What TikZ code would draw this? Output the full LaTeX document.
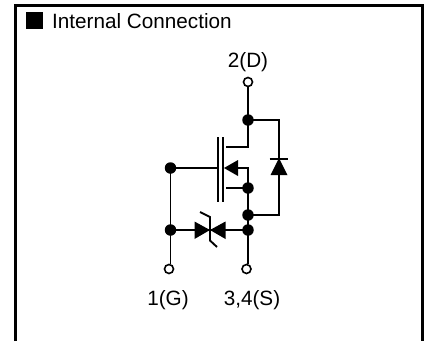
\documentclass[tikz,border=0pt]{standalone}
\usepackage{fontspec}
\setmainfont{Liberation Sans}
\tikzset{
  wire/.style={line width=1.9pt,black},
  frameline/.style={line width=3pt,black},
  bar/.style={line width=2.2pt,black},
  solder/.style={circle,fill=black,draw=none,inner sep=0pt,minimum size=11.5pt},
  term/.style={circle,fill=white,draw=black,line width=1.6pt,inner sep=0pt,minimum size=9pt},
  lbl/.style={inner sep=0pt,font=\fontsize{20.7}{24}\selectfont},
  tip/.style={fill=black,draw=none}
}
\begin{document}
\begin{tikzpicture}[x=1pt,y=-1pt]
\useasboundingbox (0,0) rectangle (424,341);
\fill[white] (0,0) rectangle (424,341);
% frame
\coordinate (fbl) at (15.5,341); \coordinate (ftl) at (15.5,5.5);
\coordinate (ftr) at (422.5,5.5); \coordinate (fbr) at (422.5,341);
\draw[frameline] (fbl) -- (ftl) -- (ftr) -- (fbr);
% title
\node[fill=black,inner sep=0pt,minimum size=17pt] (sq) at (34.5,20.5) {};
\node[anchor=base west,inner sep=0pt,font=\fontsize{20.7}{24}\selectfont] (title) at (52,28) {Internal Connection};
% labels
\node[lbl] (ld) at (248,62) {2(D)};
\node[lbl] (lg) at (168,300) {1(G)};
\node[lbl] (ls) at (252,300) {3,4(S)};
% nodes
\node[term] (D) at (248,82) {};
\node[term] (G) at (169,269) {};
\node[term] (S) at (246.5,269) {};
\node[solder] (jd) at (248,120) {};
\node[solder] (jg) at (170.5,168) {};
\node[solder] (js1) at (248,188) {};
\node[solder] (js2) at (248,215) {};
\node[solder] (js3) at (248,230) {};
\node[solder] (jl) at (170.5,230) {};
\coordinate (dr) at (279,120);
\coordinate (sr) at (279,215);
\coordinate (dc) at (248,147);
\coordinate (dch) at (226,147);
\coordinate (mc) at (248,168);
\coordinate (mch) at (231,168);
\coordinate (sch) at (226,188);
\coordinate (gb) at (218,168);
\coordinate (zc) at (210,230);
% wires
\draw[wire] (D) -- (jd.center) -- (dc) -- (dch);
\draw[wire] (jd.center) -- (dr) -- (sr) -- (js2.center);
\draw[wire] (mch) -- (mc) -- (js1.center) -- (sch);
\draw[wire] (js1.center) -- (js2.center) -- (js3.center) -- (js3.center |- S.north);
\draw[wire] (jg.center) -- (gb);
\draw[wire] (jg.center) -- (jl.center) -- (jl.center |- G.north);
\draw[wire] (jl.center) -- (zc) -- (js3.center);
% gate bars
\coordinate (b1t) at (218,137); \coordinate (b1b) at (218,202);
\coordinate (b2t) at (223,137); \coordinate (b2b) at (223,202);
\draw[bar] (b1t) -- (b1b);
\draw[bar] (b2t) -- (b2b);
% mosfet arrow
\fill[tip] (224,168) -- (238,160) -- (238,176) -- cycle;
% body diode
\fill[tip] (279,158) -- (287.5,175) -- (270.5,175) -- cycle;
\draw[line width=2.4pt] (269.5,159) -- (288,159);
% zener
\fill[tip] (210,230) -- (194.5,221.5) -- (194.5,239) -- cycle;
\fill[tip] (210,230) -- (225.5,221.5) -- (225.5,239) -- cycle;
\draw[wire] (200,212) -- (210,217) -- (210,240.5) -- (217,247);
\end{tikzpicture}
\end{document}
